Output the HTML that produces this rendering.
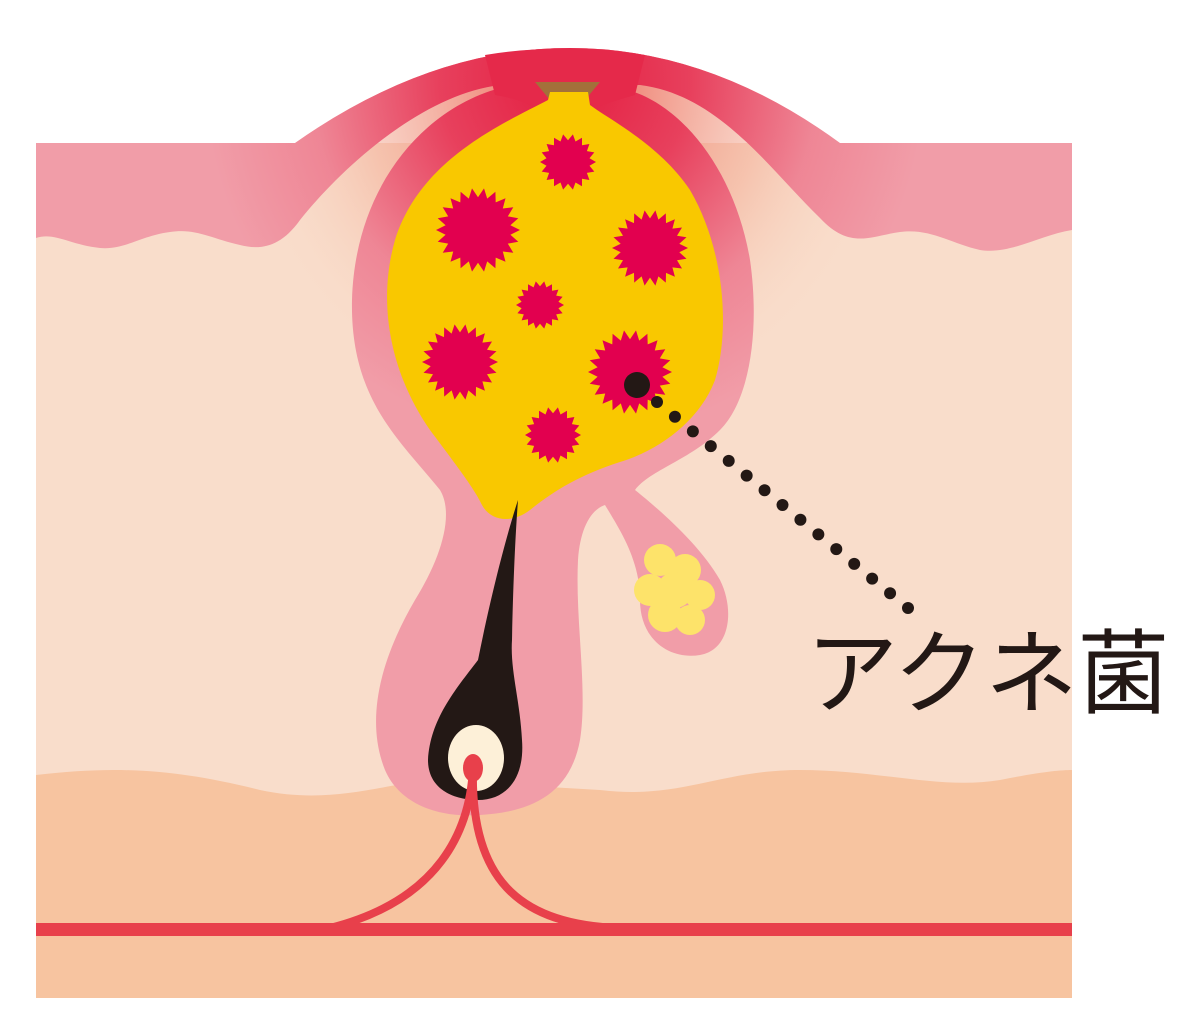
<!DOCTYPE html>
<html><head><meta charset="utf-8"><style>
html,body{margin:0;padding:0;background:#fff;}
svg{display:block}
</style></head><body>
<svg id="s" width="1200" height="1031" viewBox="0 0 1200 1031" xmlns="http://www.w3.org/2000/svg">
<defs>
<radialGradient id="red" cx="565" cy="80" r="360" gradientUnits="userSpaceOnUse">
<stop offset="0.12" stop-color="#E5294A" stop-opacity="1"/>
<stop offset="0.35" stop-color="#E5294A" stop-opacity="0.8"/>
<stop offset="0.7" stop-color="#E5294A" stop-opacity="0.2"/>
<stop offset="1" stop-color="#E5294A" stop-opacity="0"/>
</radialGradient>
<radialGradient id="glow" cx="565" cy="90" r="330" gradientUnits="userSpaceOnUse">
<stop offset="0.2" stop-color="#EE8070" stop-opacity="0.9"/>
<stop offset="0.6" stop-color="#F2A890" stop-opacity="0.5"/>
<stop offset="1" stop-color="#F9DDCB" stop-opacity="0"/>
</radialGradient>
<clipPath id="bumpclip"><path d="M36,143 L295,143 Q430,48 570,48 Q710,48 840,143 L1072,143 L1072,600 L36,600 Z"/></clipPath>
</defs>
<rect x="36" y="143" width="1036" height="855" fill="#F9DDCB"/>
<path d="M36,775 C120,765 180,770 260,790 C330,805 380,785 430,780 L600,790 C680,800 720,770 800,770 C880,770 940,790 1000,780 C1040,772 1060,770 1072,770 L1072,998 L36,998 Z" fill="#F7C4A0"/>
<circle cx="565" cy="90" r="330" fill="url(#glow)" clip-path="url(#bumpclip)"/>
<path d="M36,143 L295,143 Q430,48 570,48 Q710,48 840,143 L1072,143 L1072,230 C1040,235 1010,255 980,250 C950,243 930,228 900,232 C870,236 850,250 820,218 C770,170 720,95 640,85 L500,85 C420,95 340,170 300,220 C280,248 260,250 240,245 C210,238 195,228 170,232 C140,236 125,250 100,248 C70,245 55,232 36,238 Z" fill="#F19DA8"/>
<path d="M36,143 L295,143 Q430,48 570,48 Q710,48 840,143 L1072,143 L1072,230 C1040,235 1010,255 980,250 C950,243 930,228 900,232 C870,236 850,250 820,218 C770,170 720,95 640,85 L500,85 C420,95 340,170 300,220 C280,248 260,250 240,245 C210,238 195,228 170,232 C140,236 125,250 100,248 C70,245 55,232 36,238 Z" fill="url(#red)"/>
<path d="M500,88 C420,110 355,190 352,300 C350,400 400,440 440,490 C455,515 440,560 415,600 C380,660 365,720 385,770 C400,805 440,818 480,815 C530,812 570,795 580,740 C588,690 575,620 578,560 C580,530 590,510 605,505 C620,530 640,560 640,600 C640,640 670,660 700,655 C730,650 735,610 720,580 C700,545 660,510 635,490 C650,470 690,460 720,430 C750,400 760,330 750,260 C735,170 680,100 620,88 Z" fill="#F19DA8"/>
<path d="M500,88 C420,110 355,190 352,300 C350,400 400,440 440,490 C455,515 440,560 415,600 C380,660 365,720 385,770 C400,805 440,818 480,815 C530,812 570,795 580,740 C588,690 575,620 578,560 C580,530 590,510 605,505 C620,530 640,560 640,600 C640,640 670,660 700,655 C730,650 735,610 720,580 C700,545 660,510 635,490 C650,470 690,460 720,430 C750,400 760,330 750,260 C735,170 680,100 620,88 Z" fill="url(#red)"/>
<path d="M485,55 Q565,42 645,55 L635,95 Q600,105 590,110 L540,110 Q525,100 495,95 Z" fill="#E5294A"/>
<path d="M535,82 L600,82 L585,100 L550,100 Z" fill="#A3703A"/>
<g fill="#FDE36A">
<circle cx="660" cy="560" r="16"/><circle cx="685" cy="570" r="16"/><circle cx="650" cy="590" r="16"/><circle cx="700" cy="595" r="15"/><circle cx="665" cy="615" r="17"/><circle cx="690" cy="620" r="15"/><circle cx="675" cy="590" r="18"/>
</g>
<path d="M548,100 C500,125 420,160 395,240 C375,310 395,380 430,430 C460,470 475,490 482,505 C490,520 510,525 530,510 C555,490 580,475 620,462 C660,450 700,420 715,380 C730,330 725,250 690,190 C660,145 610,120 590,105 L588,92 L550,92 Z" fill="#F9C800"/>
<g id="stars" fill="#E2004F"></g>
<path d="M518,500 C505,540 490,600 478,660 C455,690 430,720 428,760 C428,790 455,800 478,800 C505,800 525,780 522,740 C520,700 510,670 512,640 C513,590 515,540 518,500 Z" fill="#231815"/>
<ellipse cx="476" cy="758" rx="28" ry="33" fill="#FDF0D8"/>
<g fill="none" stroke="#E8404B" stroke-width="8">
<path d="M473,768 C470,830 440,900 330,928"/>
<path d="M473,768 C470,880 520,925 620,928"/>
</g>
<ellipse cx="473" cy="768" rx="10" ry="14" fill="#E8404B"/>
<rect x="36" y="923" width="1036" height="13" fill="#E8404B"/>
<circle cx="637" cy="385" r="13" fill="#231815"/>
<g id="dots" fill="#231815"></g>
<text x="806" y="706" font-family="'Liberation Sans','Noto Sans CJK JP',sans-serif" font-size="92" fill="#231815">アクネ菌</text>
</svg>
<script>
var ns="http://www.w3.org/2000/svg";
var st=[[568,162,28],[478,230,42],[650,248,38],[540,305,24],[460,362,38],[630,372,42],[553,435,28]];
var g=document.getElementById('stars');
st.forEach(function(s){var n=s[2]>35?22:18,p=[];for(var i=0;i<2*n;i++){var a=Math.PI*i/n,r=i%2?s[2]*0.78:s[2];p.push((s[0]+r*Math.cos(a)).toFixed(1)+","+(s[1]+r*Math.sin(a)).toFixed(1));}
var e=document.createElementNS(ns,'polygon');e.setAttribute('points',p.join(' '));g.appendChild(e);});
var d=document.getElementById('dots');
for(var i=0;i<=14;i++){var t=i/14;var c=document.createElementNS(ns,'circle');c.setAttribute('cx',657+(908-657)*t);c.setAttribute('cy',402+(608-402)*t);c.setAttribute('r',6);d.appendChild(c);}
</script>
</body></html>
